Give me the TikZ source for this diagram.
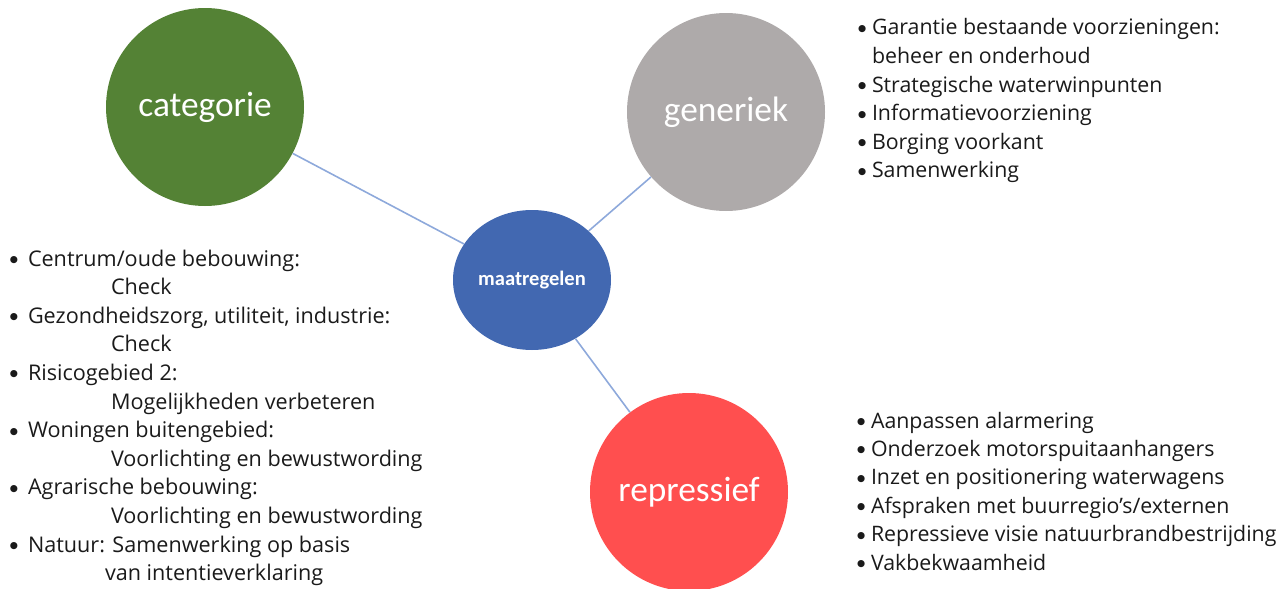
\documentclass[tikz,border=0pt]{standalone}
\usepackage{fontspec}
\setmainfont{Open Sans}
\newfontfamily\circfont{Carlito}
\newfontfamily\symfont{DejaVu Sans}
\usetikzlibrary{shapes.geometric}
\definecolor{cgreen}{HTML}{548235}
\definecolor{cgray}{HTML}{AEAAAA}
\definecolor{cblue}{HTML}{4268B1}
\definecolor{cred}{HTML}{FF4F4F}
\definecolor{cline}{HTML}{8EA9DB}
\definecolor{ctext}{HTML}{1A1A1A}
\tikzset{
  bigcirc/.style={circle, minimum size=148.5pt, inner sep=0pt, text=white, font=\circfont\fontsize{26.5pt}{30pt}\selectfont},
  hubellipse/.style={ellipse, minimum width=118.5pt, minimum height=105pt, inner sep=0pt, fill=cblue, text=white, font=\circfont\bfseries\fontsize{15.4pt}{18pt}\selectfont},
  conn/.style={draw=cline, line width=1.2pt},
  item/.style={anchor=base west, inner sep=0pt, outer sep=0pt, text=ctext, font=\fontsize{16.2pt}{19pt}\selectfont},
  ritem/.style={item, font=\fontsize{16pt}{19pt}\selectfont},
}
\newcommand{\bul}[1][13.5pt]{\makebox[#1][l]{\raisebox{2.6pt}{\symfont\fontsize{7pt}{8pt}\selectfont ●}}}
\begin{document}
\begin{tikzpicture}[x=0.75pt,y=-0.75pt]
\useasboundingbox (0,0) rectangle (1283,589);
% circles
\node[bigcirc, fill=cgreen] (cat) at (205,107) {categorie};
\node[bigcirc, fill=cgray] (gen) at (726,112) {generiek};
\node[bigcirc, fill=cred] (rep) at (689,492) {repressief};
\node[hubellipse] (maat) at (532,280) {maatregelen};
% connectors
\draw[conn] (cat) -- (maat);
\draw[conn] (gen) -- (maat);
\draw[conn] (maat) -- (rep);
% left list
\node[item] (l1) at (10,266) {\bul Centrum/oude bebouwing:};
\node[item] (l2) at (111,294.6) {Check};
\node[item] (l3) at (10,323.2) {\bul Gezondheidszorg, utiliteit, industrie:};
\node[item] (l4) at (111,351.8) {Check};
\node[item] (l5) at (10,380.4) {\bul Risicogebied 2:};
\node[item] (l6) at (111,409) {Mogelijkheden verbeteren};
\node[item] (l7) at (10,437.6) {\bul Woningen buitengebied:};
\node[item] (l8) at (111,466.2) {Voorlichting en bewustwording};
\node[item] (l9) at (10,494.8) {\bul Agrarische bebouwing:};
\node[item] (l10) at (111,523.4) {Voorlichting en bewustwording};
\node[item] (l11) at (10,552) {\bul Natuur: Samenwerking op basis};
\node[item] (l12) at (105,580.6) {van intentieverklaring};
% top right list
\node[ritem] (g1) at (858,35) {\bul[10.5pt]Garantie bestaande voorzieningen:};
\node[ritem] (g2) at (872,63.5) {beheer en onderhoud};
\node[ritem] (g3) at (858,92) {\bul[10.5pt]Strategische waterwinpunten};
\node[ritem] (g4) at (858,120.5) {\bul[10.5pt]Informatievoorziening};
\node[ritem] (g5) at (858,149) {\bul[10.5pt]Borging voorkant};
\node[ritem] (g6) at (858,177.5) {\bul[10.5pt]Samenwerking};
% bottom right list
\node[ritem] (r1) at (857,428) {\bul[10.5pt]Aanpassen alarmering};
\node[ritem] (r2) at (857,456.4) {\bul[10.5pt]Onderzoek motorspuitaanhangers};
\node[ritem] (r3) at (857,484.8) {\bul[10.5pt]Inzet en positionering waterwagens};
\node[ritem] (r4) at (857,513.2) {\bul[10.5pt]Afspraken met buurregio’s/externen};
\node[ritem] (r5) at (857,541.6) {\bul[10.5pt]Repressieve visie natuurbrandbestrijding};
\node[ritem] (r6) at (857,570) {\bul[10.5pt]Vakbekwaamheid};
\end{tikzpicture}
\end{document}
